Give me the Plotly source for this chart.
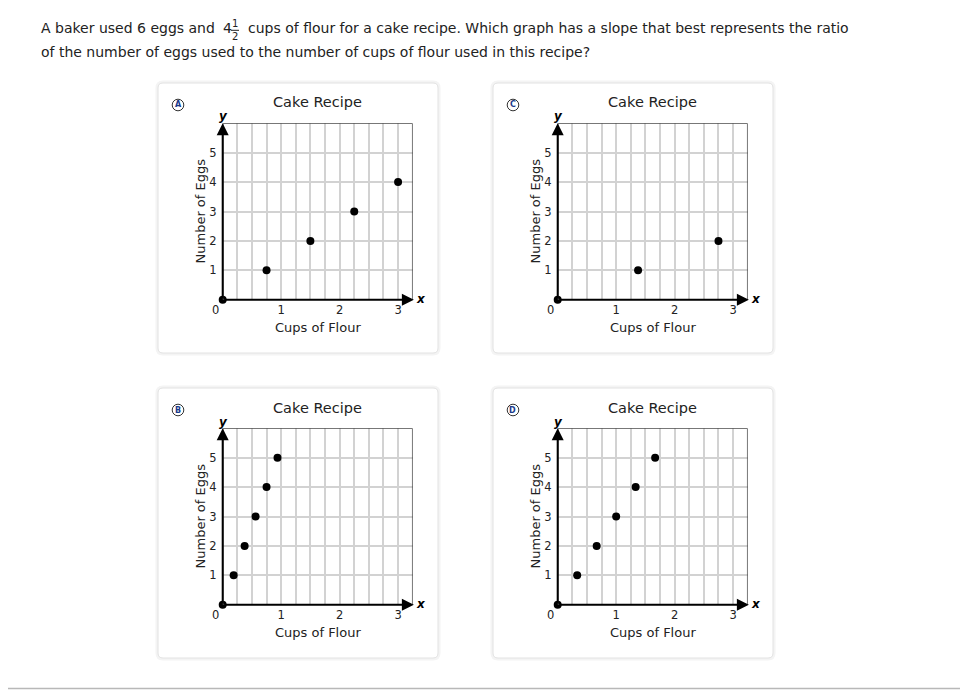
import plotly.graph_objects as go

# the page body adds an 8px margin, so the figure is 8px smaller and shifted
OFF = 8
W, H = 968 - OFF, 690 - OFF

# ---------------- data ----------------
eggs_A = [0, 1, 2, 3, 4]
flour_A = [0, 0.75, 1.5, 2.25, 3]
eggs_B = [0, 1, 2, 3, 4, 5]
flour_B = [0, 0.1875, 0.375, 0.5625, 0.75, 0.9375]
eggs_C = [0, 1, 2]
flour_C = [0, 1.375, 2.75]
eggs_D = [0, 1, 2, 3, 4, 5]
flour_D = [0, 1/3, 2/3, 1, 4/3, 5/3]

panel_letters = ["A", "B", "C", "D"]
x_tick_vals = [1, 2, 3]
x_tick_text = ["1", "2", "3"]
y_tick_vals = [1, 2, 3, 4, 5]
y_tick_text = ["1", "2", "3", "4", "5"]
chart_title = "Cake Recipe"
x_title = "Cups of Flour"
y_title = "Number of Eggs"
x_max, y_max = 3.25, 6

FONT = "DejaVu Sans"
TXT = "#222222"


def px(x):
    return (x - OFF) / W


def py(y):
    return 1 - (y - OFF) / H


panels = [
    ("A", flour_A, eggs_A, 0, 0),
    ("B", flour_B, eggs_B, 0, 305),
    ("C", flour_C, eggs_C, 335, 0),
    ("D", flour_D, eggs_D, 335, 305),
]

fig = go.Figure()
shapes = []
annotations = []
layout_axes = {}


def ann(x, y, text, size, color=TXT, xanchor="center", **kw):
    d = dict(xref="paper", yref="paper", x=px(x), y=py(y), text=text, showarrow=False,
             xanchor=xanchor, yanchor="middle", font=dict(family=FONT, size=size, color=color))
    d.update(kw)
    annotations.append(d)


def rounded_rect(x0, y0, x1, y1, r):
    X0, X1 = px(x0), px(x1)
    Y0, Y1 = py(y0), py(y1)
    rx, ry = r / W, r / H
    return (f"M {X0+rx},{Y0} L {X1-rx},{Y0} Q {X1},{Y0} {X1},{Y0-ry} "
            f"L {X1},{Y1+ry} Q {X1},{Y1} {X1-rx},{Y1} L {X0+rx},{Y1} "
            f"Q {X0},{Y1} {X0},{Y1+ry} L {X0},{Y0-ry} Q {X0},{Y0} {X0+rx},{Y0} Z")


for i, (letter, fx, ey, dx, dy) in enumerate(panels):
    n = "" if i == 0 else str(i + 1)
    xa, ya = "x" + n, "y" + n
    # card
    shapes.append(dict(type="path", xref="paper", yref="paper",
                       path=rounded_rect(158 + dx - 1, 83 + dy - 1, 438 + dx + 1, 353 + dy + 1, 6),
                       line=dict(color="#f4f4f4", width=3), fillcolor="white", layer="below"))
    shapes.append(dict(type="path", xref="paper", yref="paper",
                       path=rounded_rect(158 + dx, 83 + dy, 438 + dx, 353 + dy, 5),
                       line=dict(color="#e2e2e2", width=1), fillcolor="white", layer="below"))
    # plot area
    x0p, x1p = 222.7 + dx, 412.7 + dx
    y0p, y1p = 123.3 + dy, 299.7 + dy
    layout_axes["xaxis" + n] = dict(
        domain=[px(x0p), px(x1p)], range=[0, x_max], anchor=ya,
        tickvals=x_tick_vals, ticktext=x_tick_text, showgrid=True,
        gridcolor="#d2d2d2", gridwidth=1.5, zeroline=False, showline=False,
        ticks="", ticklabelstandoff=2, tickfont=dict(family=FONT, size=11.5, color=TXT),
        minor=dict(dtick=0.25, tick0=0, showgrid=True, gridcolor="#d2d2d2", gridwidth=1.5),
        fixedrange=True,
    )
    layout_axes["yaxis" + n] = dict(
        domain=[py(y1p), py(y0p)], range=[0, y_max], anchor=xa,
        tickvals=y_tick_vals, ticktext=y_tick_text, showgrid=True,
        gridcolor="#d2d2d2", gridwidth=1.5, zeroline=False, showline=False,
        ticks="", ticklabelstandoff=5, tickfont=dict(family=FONT, size=11.5, color=TXT),
        fixedrange=True,
    )
    # frame (top/right)
    shapes.append(dict(type="rect", xref=xa, yref=ya, x0=0, y0=0, x1=x_max, y1=y_max,
                       line=dict(color="#4a4a4a", width=1.5), layer="above"))
    # data points
    fig.add_trace(go.Scatter(x=fx, y=ey, mode="markers", xaxis=xa, yaxis=ya,
                             marker=dict(size=8, color="black"), cliponaxis=False,
                             showlegend=False, hoverinfo="skip"))
    # axes arrows
    annotations.append(dict(xref=xa, yref=ya, axref=xa, ayref=ya, x=0, y=y_max, ax=0, ay=0,
                            text="", showarrow=True, arrowhead=2, arrowsize=1.2,
                            arrowwidth=2, arrowcolor="black"))
    annotations.append(dict(xref=xa, yref=ya, axref=xa, ayref=ya, x=x_max + 0.02, y=0, ax=0, ay=0,
                            text="", showarrow=True, arrowhead=2, arrowsize=1.2,
                            arrowwidth=2, arrowcolor="black"))
    # axis letters
    ann(223.5 + dx, 116.5 + dy, "<b><i>y</i></b>", 12, color="black")
    ann(421 + dx, 299 + dy, "<b><i>x</i></b>", 12, color="black")
    # origin label
    ann(215 + dx, 309.5 + dy, "0", 11.5)
    # title & axis titles
    ann(317.7 + dx, 102.5 + dy, chart_title, 14.5)
    ann(317.7 + dx, 327.5 + dy, x_title, 13)
    ann(200 + dx, 211.5 + dy, y_title, 13, textangle=-90)
    # letter badge
    cx, cy, r = 178 + dx, 105 + dy, 5.8
    shapes.append(dict(type="circle", xref="paper", yref="paper",
                       x0=px(cx - r), x1=px(cx + r), y0=py(cy + r), y1=py(cy - r),
                       line=dict(color="#333333", width=1), fillcolor="white"))
    ann(cx, cy, f"<b>{letter}</b>", 8, color="#1a3a8a")

# question text
ann(38.5, 28, "A baker used 6 eggs and", 14, xanchor="left")
ann(220.5, 28, "4", 14, xanchor="left")
ann(235, 23.5, "1", 10)
ann(235, 36.5, "2", 10)
shapes.append(dict(type="line", xref="paper", yref="paper", x0=px(231), x1=px(239),
                   y0=py(30.3), y1=py(30.3), line=dict(color=TXT, width=1)))
ann(245.5, 28, "cups of flour for a cake recipe. Which graph has a slope that best represents the ratio",
    14, xanchor="left")
ann(38.5, 52, "of the number of eggs used to the number of cups of flour used in this recipe?",
    14, xanchor="left")

# bottom rule
shapes.append(dict(type="line", xref="paper", yref="paper", x0=0, x1=1,
                   y0=py(688.5), y1=py(688.5), line=dict(color="#b8b8b8", width=1.5)))

fig.update_layout(
    width=W, height=H, margin=dict(l=0, r=0, t=0, b=0),
    paper_bgcolor="white", plot_bgcolor="white",
    shapes=shapes, annotations=annotations, showlegend=False,
    **layout_axes,
)

fig.write_html("out.html")
